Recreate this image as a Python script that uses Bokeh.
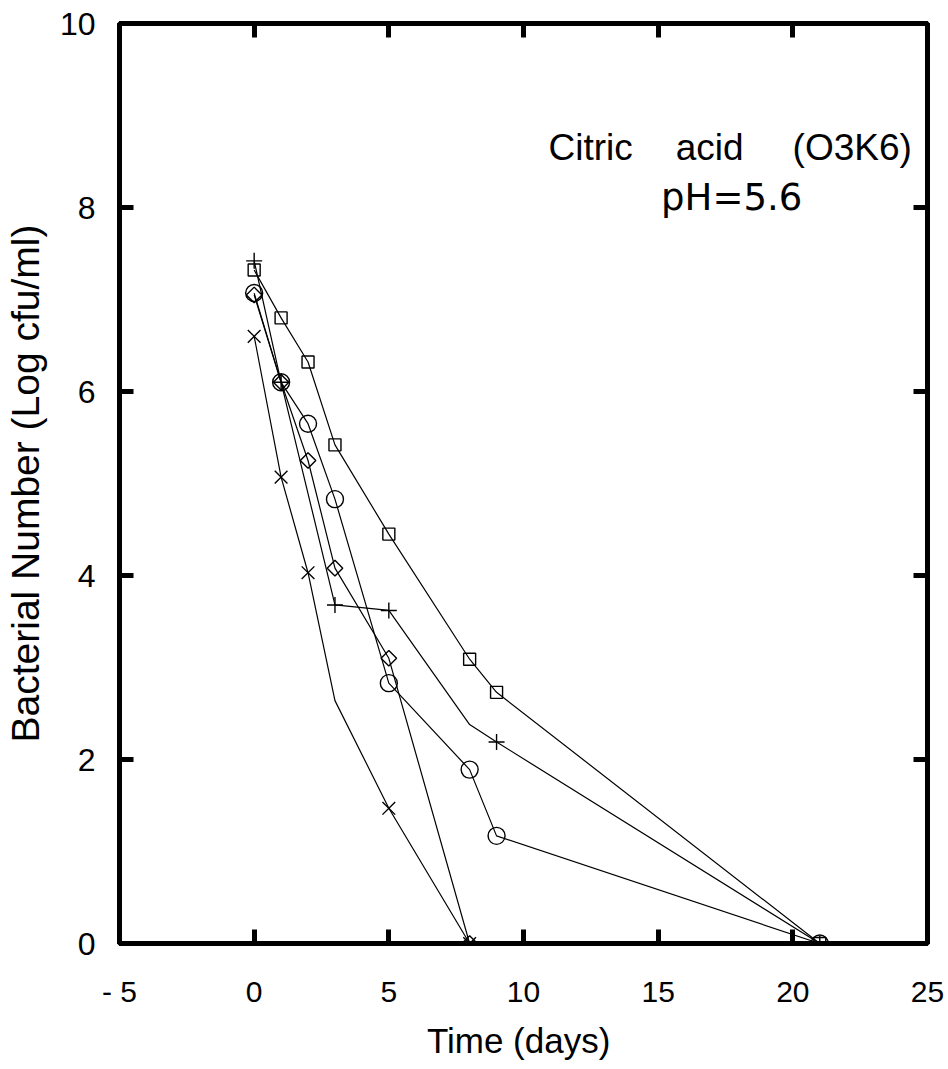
import numpy as np
from bokeh.plotting import figure
from bokeh.models import Range1d, LinearAxis, FixedTicker, Label
from bokeh.embed import file_html
from bokeh.resources import INLINE

# ---- data ----
days_sq = [0, 1, 2, 3, 5, 8, 9, 21]
log_sq = [7.32, 6.80, 6.32, 5.42, 4.45, 3.09, 2.73, 0.0]

days_plus = [0, 1, 3, 5, 8, 9, 21]
log_plus = [7.42, 6.10, 3.68, 3.62, 2.38, 2.19, 0.0]
plus_marked = [True, True, True, True, False, True, True]

days_circ = [0, 1, 2, 3, 5, 8, 9, 21]
log_circ = [7.07, 6.10, 5.65, 4.83, 2.83, 1.89, 1.17, 0.0]

days_dia = [0, 1, 2, 3, 5, 8]
log_dia = [7.05, 6.10, 5.25, 4.08, 3.10, 0.0]

days_x = [0, 1, 2, 3, 5, 8]
log_x = [6.60, 5.07, 4.03, 2.64, 1.47, 0.0]
x_marked = [True, True, True, False, True, True]

x_ticks = [-5, 0, 5, 10, 15, 20, 25]
x_tick_labels = {-5: "- 5"}
y_ticks = [0, 2, 4, 6, 8, 10]
inner_x_ticks = [0, 5, 10, 15, 20]
inner_y_ticks = [2, 4, 6, 8]

FONT = "Liberation Sans"

p = figure(width=948, height=1069,
           x_range=Range1d(-5, 25), y_range=Range1d(0, 10),
           output_backend="svg", toolbar_location=None,
           min_border_left=119, min_border_right=21,
           min_border_top=23, min_border_bottom=126)
p.background_fill_color = "white"
p.border_fill_color = "white"
p.grid.visible = False
p.outline_line_color = "black"
p.outline_line_width = 5

def style_axis(ax, ticks, font_size, standoff):
    ax.ticker = FixedTicker(ticks=ticks)
    ax.major_tick_in = 14
    ax.major_tick_out = 0
    ax.major_tick_line_width = 5
    ax.major_tick_line_color = "black"
    ax.minor_tick_line_color = None
    ax.axis_line_width = 5
    ax.axis_line_color = "black"
    ax.major_label_text_font = FONT
    ax.major_label_text_font_size = font_size
    ax.major_label_text_color = "black"
    ax.major_label_standoff = standoff

xa = p.xaxis[0]
style_axis(xa, x_ticks, "30px", 31)
xa.major_label_overrides = x_tick_labels
xa.axis_label = "Time  (days)"
xa.axis_label_text_font = FONT
xa.axis_label_text_font_size = "35px"
xa.axis_label_text_font_style = "normal"
xa.axis_label_text_color = "black"
xa.axis_label_standoff = 10

ya = p.yaxis[0]
style_axis(ya, y_ticks, "32px", 24)
ya.axis_label = "Bacterial Number (Log cfu/ml)"
ya.axis_label_text_font = FONT
ya.axis_label_text_font_size = "39px"
ya.axis_label_text_font_style = "normal"
ya.axis_label_text_color = "black"
ya.axis_label_standoff = 10

top_ax = LinearAxis()
style_axis(top_ax, inner_x_ticks, "0px", 0)
top_ax.major_label_text_alpha = 0
p.add_layout(top_ax, "above")

right_ax = LinearAxis()
style_axis(right_ax, inner_y_ticks, "0px", 0)
right_ax.major_label_text_alpha = 0
p.add_layout(right_ax, "right")

LW = 1.2
p.line(days_sq, log_sq, line_color="black", line_width=LW)
p.line(days_plus, log_plus, line_color="black", line_width=LW)
p.line(days_circ, log_circ, line_color="black", line_width=LW)
p.line(days_dia, log_dia, line_color="black", line_width=LW)
p.line(days_x, log_x, line_color="black", line_width=LW)

p.scatter(days_sq, log_sq, marker="square", size=12, fill_color=None,
          line_color="black", line_width=1.4)
px = [d for d, m in zip(days_plus, plus_marked) if m]
py = [v for v, m in zip(log_plus, plus_marked) if m]
p.scatter(px, py, marker="cross", size=16, line_color="black", line_width=1.4)
p.scatter(days_circ, log_circ, marker="circle", size=17, fill_color=None,
          line_color="black", line_width=1.4)
p.scatter(days_dia, log_dia, marker="square", angle=np.pi / 4, size=11,
          fill_color=None, line_color="black", line_width=1.4)
xx = [d for d, m in zip(days_x, x_marked) if m]
xy = [v for v, m in zip(log_x, x_marked) if m]
p.scatter(xx, xy, marker="x", size=18, line_color="black", line_width=1.4)

# annotation
for txt, xpos in [("Citric", 10.93), ("acid", 15.65), ("(O3K6)", 19.99)]:
    p.add_layout(Label(x=xpos, y=8.65, text=txt, text_font=FONT,
                       text_font_size="37px", text_color="black",
                       text_baseline="alphabetic", text_align="left"))
p.add_layout(Label(x=17.73, y=8.11, text="pH=5.6", text_font="DejaVu Sans",
                   text_font_size="37px", text_color="black",
                   text_baseline="alphabetic", text_align="center"))

open("out.html", "w").write(file_html(p, INLINE))
